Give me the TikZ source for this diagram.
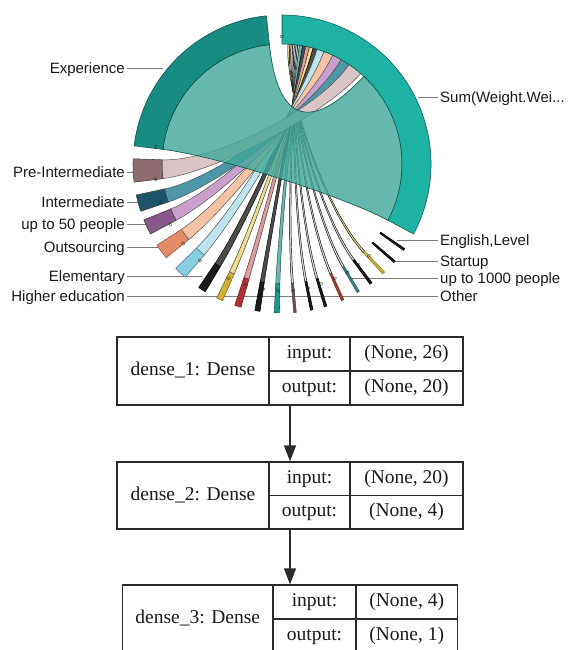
\documentclass[tikz,border=0pt]{standalone}
\usepackage{fontspec}
\setmainfont{Liberation Sans}
\newfontfamily\layerfont{Liberation Serif}
\usetikzlibrary{arrows.meta}

% ring and ribbon colours
\definecolor{sumring}{HTML}{1EB2A3}
\definecolor{sumedge}{HTML}{0C5A52}
\definecolor{expring}{HTML}{188C80}
\definecolor{expedge}{HTML}{0E4F48}
\definecolor{expribbon}{HTML}{3FA898}
\definecolor{ringPre}{HTML}{8E6C72}\definecolor{ribPre}{HTML}{D9C4C6}
\definecolor{ringInt}{HTML}{1E5468}\definecolor{ribInt}{HTML}{4E97A7}
\definecolor{ringUp}{HTML}{87588B}\definecolor{ribUp}{HTML}{C8A0CB}
\definecolor{ringOut}{HTML}{E38C66}\definecolor{ribOut}{HTML}{F5C3A4}
\definecolor{ringElem}{HTML}{86CEDF}\definecolor{ribElem}{HTML}{BDE5EE}
\definecolor{ringBlk}{HTML}{1B1B1B}\definecolor{ribBlk}{HTML}{4D4D4D}
\definecolor{ringYel}{HTML}{D2AE38}\definecolor{ribYel}{HTML}{EEDD8C}
\definecolor{ringRed}{HTML}{B22F35}\definecolor{ribRed}{HTML}{E39A9C}
\definecolor{ringTeal}{HTML}{17998B}\definecolor{ribTeal}{HTML}{5DBDB0}
\definecolor{ringBrown}{HTML}{6E5555}
\definecolor{ringRust}{HTML}{9E3E2A}
\definecolor{ringSteel}{HTML}{37808D}
\definecolor{ribThin}{HTML}{DADADA}
\definecolor{leader}{HTML}{7C7C7C}
\definecolor{inkdark}{HTML}{1A1A1A}
\definecolor{boxline}{HTML}{2A2A2A}

% annular segment of the outer ring: lo, hi, fill, edge
\newcommand{\ringseg}[4]{\filldraw[fill=#3,draw=#4,line width=0.55pt,line join=round]
  (#1:120) -- (#1:149) arc[start angle=#1,end angle=#2,radius=149]
  -- (#2:120) arc[start angle=#2,end angle=#1,radius=120] -- cycle;}

% chord from a category arc (lo,hi) to a slot (slo,shi) of the sum arc
\newcommand{\chordribbon}[6]{\filldraw[fill=#5,draw=#6,line width=0.45pt]
  (#1:120) arc[start angle=#1,end angle=#2,radius=120]
  .. controls (#2:66) and (#3:66) .. (#3:120)
  arc[start angle=#3,end angle=#4,radius=120]
  .. controls (#4:66) and (#1:66) .. (#1:120) -- cycle;}

% small tick value on a segment: name, angle
\newcommand{\zerotick}[2]{\node[zerolbl,rotate=#2] (#1) at (#2:127) {0};}

\begin{document}
\begin{tikzpicture}[x=1pt,y=1pt,
  lbl/.style={font=\fontsize{15}{15}\selectfont,text=inkdark,inner sep=2pt,text height=10.7pt,text depth=0pt},
  leaderline/.style={draw=leader,line width=0.9pt},
  cell/.style={draw=boxline,line width=1.2pt,inner sep=0pt,text height=13pt,text depth=4pt,
    font=\layerfont\fontsize{19.5}{21}\selectfont,text=inkdark},
  layerbox/.style={draw=boxline,line width=1.3pt,inner sep=0pt},
  flowarrow/.style={draw=boxline,line width=1.3pt,-{Triangle[length=16pt,width=12pt]}},
  zerolbl/.style={font=\fontsize{5.5}{5.5}\selectfont,inner sep=0pt,text=inkdark}]
\useasboundingbox (0,0) rectangle (568,-650);
\fill[white] (0,0) rectangle (568,-650);

% ---------------- leader lines and category labels ----------------
\node[lbl,anchor=east] (tExp) at (127,-68) {Experience};
\node[lbl,anchor=east] (tPre) at (127,-172) {Pre-Intermediate};
\node[lbl,anchor=east] (tInt) at (127,-202) {Intermediate};
\node[lbl,anchor=east] (tUp) at (127,-224) {up to 50 people};
\node[lbl,anchor=east] (tOut) at (127,-247) {Outsourcing};
\node[lbl,anchor=east] (tElem) at (127,-276) {Elementary};
\node[lbl,anchor=east] (tHigh) at (127,-296.5) {Higher education};
\node[lbl,anchor=west] (tSum) at (438,-97) {Sum(Weight.Wei...};
\node[lbl,anchor=west] (tEng) at (438,-240) {English,Level};
\node[lbl,anchor=west] (tStart) at (438,-261) {Startup};
\node[lbl,anchor=west] (tThou) at (438,-278) {up to 1000 people};
\node[lbl,anchor=west] (tOther) at (438,-296.5) {Other};

\coordinate (pExp) at (163,-68);
\coordinate (pPre) at (150,-172);
\coordinate (pInt) at (145,-202);
\coordinate (pUp) at (155,-224);
\coordinate (pOut) at (168,-247);
\coordinate (pElem) at (202,-276);
\coordinate (pHigh) at (286,-296.5);
\coordinate (pSum) at (418,-97);
\coordinate (pEng) at (397,-240);
\coordinate (pStart) at (393,-261);
\coordinate (pThou) at (350,-278);
\coordinate (pOther) at (286,-296.5);

\foreach \t/\p in {tExp/pExp,tPre/pPre,tInt/pInt,tUp/pUp,tOut/pOut,tElem/pElem,tHigh/pHigh}
  \draw[leaderline] (\t.east) -- (\p);
\foreach \t/\p in {tSum/pSum,tEng/pEng,tStart/pStart,tThou/pThou,tOther/pOther}
  \draw[leaderline] (\t.west) -- (\p);

% ---------------- chord diagram ----------------
\begin{scope}[shift={(282,-164)}]
  % chords of the small categories into the top of the sum arc
  \chordribbon{312.5}{313.5}{86.4}{87.2}{ribYel}{black}
  \chordribbon{306.2}{307.2}{85.6}{86.4}{ribThin}{black}
  \chordribbon{300.3}{301.3}{84.8}{85.6}{ribThin}{black}
  \chordribbon{293.5}{294.5}{84}{84.8}{ribThin}{black}
  \chordribbon{286.5}{287.5}{83.2}{84}{ribThin}{black}
  \chordribbon{281}{282}{82.4}{83.2}{ribThin}{black}
  \chordribbon{274.5}{275.5}{81.6}{82.4}{ribThin}{black}
  \chordribbon{267}{269}{80.1}{81.6}{ribTeal}{black!80}
  \chordribbon{259.5}{261.5}{78.6}{80.1}{ribBlk}{black}
  \chordribbon{251.5}{254}{76.8}{78.6}{ribRed}{black!80}
  \chordribbon{244}{246.5}{75}{76.8}{ribYel}{black!80}
  \chordribbon{236}{239}{73}{75}{ribBlk}{black}
  \chordribbon{224.5}{229.5}{69.5}{73}{ribElem}{black!70}
  \chordribbon{213}{219}{65}{69.5}{ribOut}{black!70}
  \chordribbon{202}{208}{60.5}{65}{ribUp}{black!70}
  \chordribbon{192}{198.5}{56}{60.5}{ribInt}{black!70}
  \chordribbon{178}{187}{49}{56}{ribPre}{black!70}

  % the large chord between Experience and the sum arc, laid over the others
  \filldraw[fill=expribbon,draw=expedge,line width=0.6pt,fill opacity=0.8]
    (96:120) arc[start angle=96,end angle=173,radius=120]
    .. controls (173:66) and (-28:66) .. (-28:120)
    arc[start angle=-28,end angle=47,radius=120]
    .. controls (47:42) and (96:42) .. (96:120) -- cycle;

  % outer ring segments
  \ringseg{-28}{90}{sumring}{sumedge}
  \ringseg{96}{173}{expring}{expedge}
  \ringseg{178}{187}{ringPre}{black!75}
  \ringseg{192}{198.5}{ringInt}{black!75}
  \ringseg{202}{208}{ringUp}{black!75}
  \ringseg{213}{219}{ringOut}{ringOut!60!black}
  \ringseg{224.5}{229.5}{ringElem}{ringElem!60!black}
  \ringseg{236}{239}{ringBlk}{black}
  \ringseg{244}{246.5}{ringYel}{ringYel!60!black}
  \ringseg{251.5}{254}{ringRed}{ringRed!60!black}
  \ringseg{259.5}{261.5}{ringBlk}{black}
  \ringseg{267}{269}{ringTeal}{ringTeal!60!black}
  \ringseg{274.5}{275.5}{ringBrown}{ringBrown!70!black}
  \ringseg{281}{282}{ringBlk}{black}
  \ringseg{286.5}{287.5}{ringBlk}{black}
  \ringseg{293.5}{294.5}{ringRust}{ringRust!70!black}
  \ringseg{300.3}{301.3}{ringSteel}{ringSteel!70!black}
  \ringseg{306.2}{307.2}{ringBlk}{black}
  \ringseg{312.5}{313.5}{ringYel}{ringYel!70!black}
  \ringseg{318.6}{319.4}{ringBlk}{black}
  \ringseg{324.6}{325.4}{ringBlk}{black}

  % zero ticks at the start of each segment
  \zerotick{zSum}{90}
  \zerotick{zExp}{172.5}
  \zerotick{zPre}{187}
  \zerotick{zInt}{197.7}
  \zerotick{zUp}{208.5}
  \zerotick{zOut}{219}
  \zerotick{zElem}{229.8}
  \zerotick{zBa}{238.2}
  \zerotick{zYel}{245}
  \zerotick{zRed}{253.5}
  \zerotick{zBb}{261.5}
  \zerotick{zTeal}{268.2}
  \zerotick{zTa}{275}
  \zerotick{zTb}{281.8}
  \zerotick{zTc}{288}
  \zerotick{zTd}{294.5}
  \zerotick{zTe}{301}
  \zerotick{zTf}{307}
  \zerotick{zTg}{313.2}
\end{scope}

% ---------------- layer summary ----------------
% dense_1
\node[layerbox,minimum width=346pt,minimum height=68pt] (L1) at (290,-371) {};
\node[cell,minimum width=152pt,minimum height=68pt] (L1n) at (193,-371) {dense\_1: Dense};
\node[cell,minimum width=81pt,minimum height=34pt] (L1i) at (309.5,-354) {input:};
\node[cell,minimum width=81pt,minimum height=34pt] (L1o) at (309.5,-388) {output:};
\node[cell,minimum width=113pt,minimum height=34pt] (L1iv) at (406.5,-354) {(None, 26)};
\node[cell,minimum width=113pt,minimum height=34pt] (L1ov) at (406.5,-388) {(None, 20)};
% dense_2
\node[layerbox,minimum width=346pt,minimum height=67pt] (L2) at (290,-495.5) {};
\node[cell,minimum width=152pt,minimum height=67pt] (L2n) at (193,-495.5) {dense\_2: Dense};
\node[cell,minimum width=81pt,minimum height=33.5pt] (L2i) at (309.5,-478.75) {input:};
\node[cell,minimum width=81pt,minimum height=33.5pt] (L2o) at (309.5,-512.25) {output:};
\node[cell,minimum width=113pt,minimum height=33.5pt] (L2iv) at (406.5,-478.75) {(None, 20)};
\node[cell,minimum width=113pt,minimum height=33.5pt] (L2ov) at (406.5,-512.25) {(None, 4)};
% dense_3
\node[layerbox,minimum width=335pt,minimum height=68pt] (L3) at (290,-619) {};
\node[cell,minimum width=150.5pt,minimum height=68pt] (L3n) at (197.75,-619) {dense\_3: Dense};
\node[cell,minimum width=83pt,minimum height=34pt] (L3i) at (314.5,-602) {input:};
\node[cell,minimum width=83pt,minimum height=34pt] (L3o) at (314.5,-636) {output:};
\node[cell,minimum width=101.5pt,minimum height=34pt] (L3iv) at (406.75,-602) {(None, 4)};
\node[cell,minimum width=101.5pt,minimum height=34pt] (L3ov) at (406.75,-636) {(None, 1)};

\draw[flowarrow] (L1.south) -- (L2.north);
\draw[flowarrow] (L2.south) -- (L3.north);
\end{tikzpicture}
\end{document}
